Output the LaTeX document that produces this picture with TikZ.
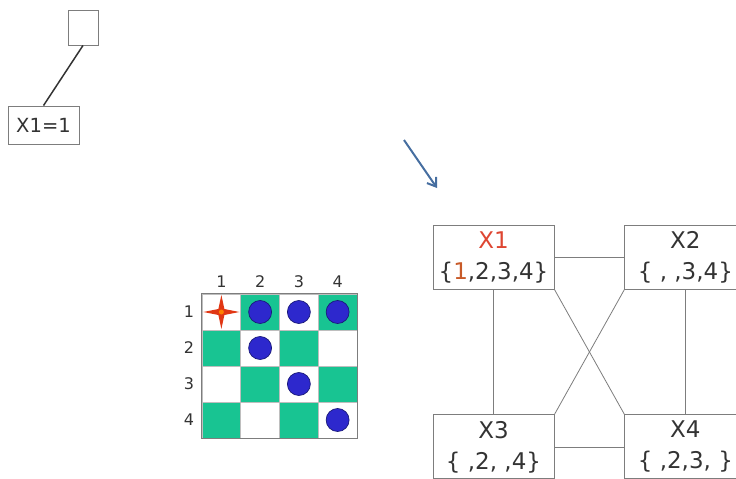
\documentclass[tikz,border=0pt]{standalone}
\usepackage{fontspec}
\setmainfont{DejaVu Sans}
\usepackage{xcolor}
\usepackage{tikz}
\usetikzlibrary{arrows.meta, positioning}
\definecolor{cellgreen}{RGB}{24,196,146}
\definecolor{dotblue}{RGB}{45,40,205}
\definecolor{dotedge}{RGB}{25,25,120}
\definecolor{linegray}{RGB}{125,125,125}
\definecolor{redlabel}{RGB}{222,70,50}
\definecolor{orangelabel}{RGB}{200,90,40}
\definecolor{arrowblue}{RGB}{70,110,160}
\definecolor{starred}{RGB}{225,55,20}

\begin{document}
\begin{tikzpicture}[
  x=1pt, y=-1pt,
  var/.style={rectangle, draw=linegray, line width=0.9pt, minimum width=121pt,
              minimum height=64pt, inner sep=0pt, align=center, text=black!80,
              font=\fontsize{23}{31}\selectfont},
  edge/.style={draw=linegray, line width=0.8pt},
  cell/.style={rectangle, draw=linegray!50, line width=0.6pt, minimum width=38.75pt,
               minimum height=36pt, inner sep=0pt},
  idx/.style={font=\fontsize{16}{16}\selectfont, text=black!80},
  dot/.style={circle, fill=dotblue, draw=dotedge, line width=0.7pt,
              minimum size=23pt, inner sep=0pt},
]
\useasboundingbox (0,0) rectangle (736,479);
\clip (0,0) rectangle (736,479);

\node[rectangle, draw=linegray, line width=0.9pt, minimum width=30pt, minimum height=35pt] (root) at (83,27.5) {};
\node[rectangle, draw=linegray, line width=0.9pt, minimum width=71pt, minimum height=38pt,
      text=black!80, font=\fontsize{19.5}{19.5}\selectfont] (assign) at (43.5,125) {X1=1};
\draw[line width=1.5pt, black!80] (root.south) -- (assign.north);

\coordinate (from) at (404,140);
\coordinate (to) at (437,188);
\draw[arrowblue, line width=2pt, -{Straight Barb[length=8pt,width=11pt]}] (from) -- (to);

\foreach \r in {1,...,4} {
  \foreach \c in {1,...,4} {
    \pgfmathtruncatemacro\odd{mod(\r+\c,2)}
    \ifnum\odd=1 \def\cellfill{cellgreen}\else\def\cellfill{white}\fi
    \node[cell, fill=\cellfill] (c\r\c) at ({182.625+38.75*\c}, {276+36*\r}) {};
  }
}
\foreach \c in {1,...,4}
  \node[idx] (col\c) at ({182.625+38.75*\c}, 282) {\c};
\foreach \r in {1,...,4}
  \node[idx] (row\r) at (189, {276+36*\r}) {\r};
\draw[linegray, line width=0.8pt] (c11.north west) rectangle (c44.south east);

\foreach \p in {12,13,14,22,33,44}
  \node[dot] (dot\p) at (c\p) {};
\fill[starred, shift={(c11.center)}] (-18,0) -- (-3,-3) -- (0,-17) -- (3,-3) -- (18,0)
  -- (3,3) -- (0,17) -- (-3,3) -- cycle;
\fill[orange, shift={(c11.center)}] (0,0) circle (2.5);

\node[var] (x1) at (493.5,257) {\textcolor{redlabel}{X1}\\\{\textcolor{orangelabel}{1},2,3,4\}};
\node[var, right=70pt of x1] (x2) {X2\\\{ , ,3,4\}};
\node[var, below=125pt of x1] (x3) {X3\\\{ ,2, ,4\}};
\node[var, below=125pt of x2] (x4) {X4\\\{ ,2,3, \}};

\draw[edge] (x1) -- (x2);
\draw[edge] (x1) -- (x3);
\draw[edge] (x2) -- (x4);
\draw[edge] (x3) -- (x4);
\draw[edge] (x1.south east) -- (x4.north west);
\draw[edge] (x2.south west) -- (x3.north east);
\end{tikzpicture}
\end{document}
